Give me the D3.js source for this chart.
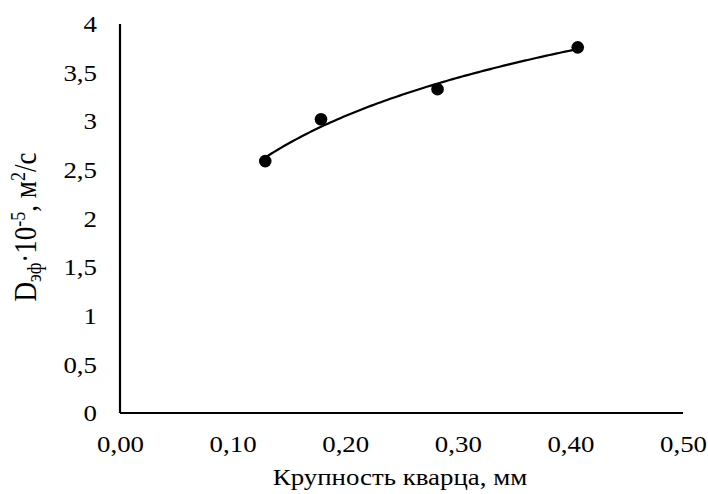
<!DOCTYPE html>
<html>
<head>
<meta charset="utf-8">
<script src="https://cdn.jsdelivr.net/npm/d3@7"></script>
<style>
  body { margin: 0; background: #fff; }
  text { font-family: "Liberation Serif", "Times New Roman", serif !important; }
</style>
</head>
<body>
<div id="chart"></div>
<script>
// grain size of quartz, mm
const grainSize = [0.129, 0.1785, 0.282, 0.4065];
// effective diffusion coefficient, 10^-5 m2/s
const dEff = [2.59, 3.02, 3.33, 3.76];
const xTicks = [0, 0.1, 0.2, 0.3, 0.4, 0.5];
const yTicks = [0, 0.5, 1, 1.5, 2, 2.5, 3, 3.5, 4];

const width = 708, height = 494;
const margin = { top: 24, right: 25, bottom: 81, left: 120 };
const serif = "Liberation Serif";
const fontSize = 24;
const stretch = 1.12; // the picture is stretched a bit horizontally

const svg = d3.select("#chart").append("svg")
  .attr("width", width)
  .attr("height", height)
  .attr("font-family", serif);

const x = d3.scaleLinear().domain([0, 0.5]).range([margin.left, width - margin.right]);
const y = d3.scaleLinear().domain([0, 4]).range([height - margin.bottom, margin.top]);

const fmtX = d => d3.format(".2f")(d).replace(".", ",");
const fmtY = d => String(d).replace(".", ",");

// axes
const xAxis = svg.append("g")
  .attr("transform", `translate(0,${y(0)})`)
  .call(d3.axisBottom(x).tickValues(xTicks).tickSize(0).tickPadding(22).tickFormat(fmtX));
const yAxis = svg.append("g")
  .attr("transform", `translate(${x(0)},0)`)
  .call(d3.axisLeft(y).tickValues(yTicks).tickSize(0).tickFormat(fmtY));

[xAxis, yAxis].forEach(g => {
  g.attr("font-family", serif).attr("font-size", fontSize);
  g.select(".domain").attr("stroke", "#000").attr("stroke-width", 2.2);
  g.selectAll("text")
    .attr("font-family", serif)
    .attr("font-size", fontSize)
    .attr("fill", "#000");
});
xAxis.selectAll("text").attr("transform", `scale(${stretch},1)`);
yAxis.selectAll("text")
  .attr("x", -23 / stretch)
  .attr("transform", `scale(${stretch},1)`);
yAxis.select(".domain").attr("d", `M0,${y(4)}V${y(0)}`);
xAxis.select(".domain").attr("d", `M${x(0)},0H${x(0.5)}`);

// logarithmic trendline fitted to the points
const lx = grainSize.map(Math.log);
const mx = d3.mean(lx), my = d3.mean(dEff);
const a = d3.sum(lx, (v, i) => (v - mx) * (dEff[i] - my)) / d3.sum(lx, v => (v - mx) ** 2);
const b = my - a * mx;
const xs = d3.range(0, 101).map(i => grainSize[0] + (grainSize[3] - grainSize[0]) * i / 100);

svg.append("path")
  .datum(xs)
  .attr("fill", "none")
  .attr("stroke", "#000")
  .attr("stroke-width", 2.2)
  .attr("d", d3.line().x(d => x(d)).y(d => y(a * Math.log(d) + b)));

svg.selectAll("circle.pt")
  .data(grainSize)
  .enter().append("circle")
  .attr("class", "pt")
  .attr("cx", d => x(d))
  .attr("cy", (d, i) => y(dEff[i]))
  .attr("r", 6.3)
  .attr("fill", "#000");

// axis titles
svg.append("text")
  .attr("transform", `translate(400,485) scale(${stretch},1)`)
  .attr("text-anchor", "middle")
  .attr("font-size", fontSize)
  .text("Крупность кварца, мм");

const yt = svg.append("text")
  .attr("transform", "translate(36,227) rotate(-90) scale(1,1.15)")
  .attr("text-anchor", "middle")
  .attr("font-size", 27);
yt.append("tspan").text("D");
yt.append("tspan").attr("font-size", 18).attr("dy", 4).text("эф");
yt.append("tspan").attr("dy", -4).text("·10");
yt.append("tspan").attr("font-size", 18).attr("dy", -10).text("-5");
yt.append("tspan").attr("dy", 10).text(", м");
yt.append("tspan").attr("font-size", 18).attr("dy", -10).text("2");
yt.append("tspan").attr("dy", 10).text("/с");
</script>
</body>
</html>
